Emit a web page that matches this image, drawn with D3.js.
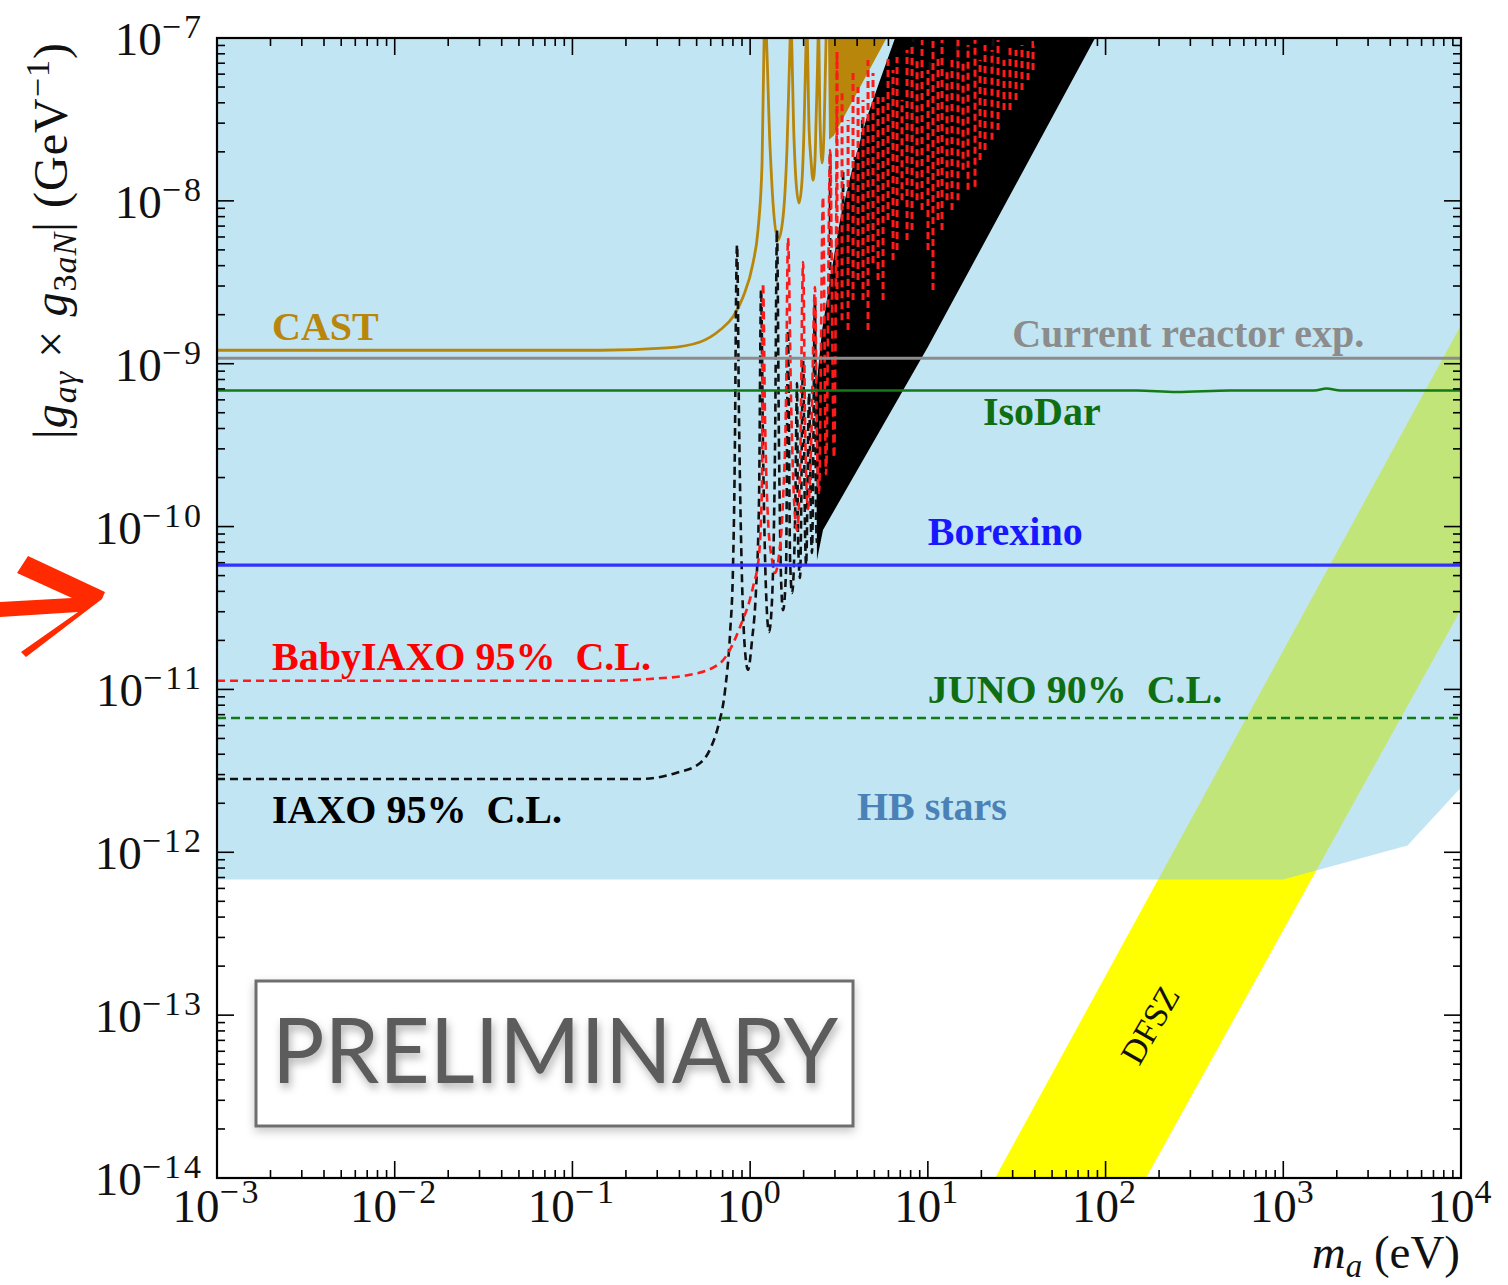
<!DOCTYPE html>
<html>
<head>
<meta charset="utf-8">
<script src="https://cdn.jsdelivr.net/npm/d3@7"></script>
<style>
  html, body { margin: 0; padding: 0; background: #fff; }
  svg { display: block; }
</style>
</head>
<body>
<svg id="chart" width="1508" height="1285"></svg>
<script>
// ---------------- data ----------------
const massDomain = [1e-3, 1e4];            // m_a (eV)
const couplingDomain = [1e-14, 1e-7];      // |g_ay x g_3aN| (GeV^-1)
const xTickExponents = [-3, -2, -1, 0, 1, 2, 3, 4];
const yTickExponents = [-14, -13, -12, -11, -10, -9, -8, -7];

// HB stars excluded region (lower edge; extends to the top of the frame)
const hbMass  = [1e-3, 1e3, 5e3, 1e4];
const hbLower = [6.8e-13, 6.8e-13, 1.1e-12, 2.5e-12];

// DFSZ band
const dfszMass  = [20, 1e4];
const dfszUpper = [7.0e-15, 1.73e-9];
const dfszLower = [1.5e-16, 3.1e-11];

// CAST limit
const castMass = [1e-3, 0.143, 0.340, 0.523, 0.677, 0.801, 0.912, 1.038, 1.107, 1.167, 1.198, 1.213,
  1.294, 1.345, 1.435, 1.532, 1.613, 1.678, 1.69,
  1.766, 1.81, 1.884, 1.959, 2.009, 2.065, 2.08,
  2.147, 2.20, 2.259, 2.317, 2.35, 2.41, 2.42,
  2.472, 2.541, 2.606, 2.673, 2.69];
const castCoupling = [1.21e-9, 1.21e-9, 1.25e-9, 1.36e-9, 1.61e-9, 1.94e-9, 2.57e-9, 4.15e-9, 6.62e-9, 1.71e-8, 9.72e-8, 1.3e-7,
  2.14e-8, 9.7e-9, 5.75e-9, 7.96e-9, 2.14e-8, 9.72e-8, 1.3e-7,
  2.37e-8, 1.34e-8, 9.7e-9, 1.34e-8, 2.72e-8, 9.72e-8, 1.3e-7,
  2.72e-8, 1.78e-8, 1.34e-8, 1.78e-8, 3.14e-8, 9.72e-8, 1.3e-7,
  3.14e-8, 1.71e-8, 2.72e-8, 9.72e-8, 1.3e-7];
// CAST: densely oscillating part, drawn as its envelope
const castDenseMass = [2.742, 6.0, 2.965, 2.78];
const castDenseCoupling = [1.05e-7, 1.05e-7, 2.53e-8, 2.37e-8];

// IAXO 95% C.L.
const iaxoMass = [1e-3, 0.240, 0.383, 0.523, 0.603, 0.659, 0.723, 0.771, 0.801, 0.822, 0.833, 0.844,
  0.866, 0.900, 0.935, 0.973, 1.025, 1.079, 1.122, 1.152, 1.182, 1.228, 1.277, 1.328, 1.380, 1.416,
  1.454, 1.493, 1.532, 1.592, 1.633, 1.678, 1.722, 1.790, 1.836, 1.86, 1.909, 1.986, 2.04, 2.065,
  2.147, 2.20, 2.228, 2.317, 2.350, 2.377];
const iaxoCoupling = [2.82e-12, 2.82e-12, 3.07e-12, 3.53e-12, 4.43e-12, 5.88e-12, 9.93e-12, 2.22e-11, 5.65e-11, 3.76e-10, 2.46e-9, 5.36e-9,
  4.51e-10, 4.70e-11, 1.75e-11, 1.32e-11, 2.01e-11, 4.08e-11, 1.46e-10, 2.84e-9, 2.95e-10, 4.08e-11, 2.25e-11, 3.54e-11, 2.95e-10, 6.62e-9,
  2.95e-10, 4.70e-11, 3.07e-11, 5.41e-11, 1.61e-9, 6.24e-11, 3.91e-11, 1.10e-10, 7.62e-10, 8.28e-11, 4.83e-11, 1.05e-9, 8.28e-11, 5.81e-11,
  6.61e-10, 9.53e-11, 6.89e-11, 2.46e-9, 1.10e-10, 7.93e-11];
// IAXO: region filled by unresolved oscillations
const iaxoDenseMass = [2.377, 2.350, 2.541, 2.816, 3.205, 3.745, 4.489, 5.383, 6.539, 87.3, 10.02, 2.570];
const iaxoDenseCoupling = [6.24e-11, 6.90e-10, 1.61e-9, 3.27e-9, 7.62e-9, 1.55e-8, 3.14e-8, 5.52e-8, 1e-7, 1e-7, 1.27e-9, 9.53e-11];
// IAXO: resonance spikes next to the filled region
const iaxoSpikeMass = [2.818, 3.333, 3.556, 3.890, 4.275, 4.732, 5.178, 6.288, 7.638, 8.26, 10.27, 14.59, 23.28];
const iaxoSpikeTop  = [2.05e-8, 1.55e-8, 1.01e-8, 1.86e-8, 3.14e-8, 2.72e-8, 4.16e-8, 5.52e-8, 3.46e-8, 1.1e-7, 7.33e-8, 1.1e-7, 1.1e-7];
const iaxoSpikeBase = [1.61e-9, 2.46e-9, 3.04e-9, 3.27e-9, 4.33e-9, 5.75e-9, 1.01e-8, 1.78e-8, 1.55e-8, 2.05e-8, 2.72e-8, 4.16e-8, 6.36e-8];

// BabyIAXO 95% C.L.
const babyMass = [1e-3, 0.143, 0.273, 0.459, 0.677, 0.877, 1.038, 1.122, 1.167, 1.182, 1.213, 1.261,
  1.328, 1.380, 1.454, 1.532, 1.592, 1.633, 1.699, 1.766, 1.836, 1.909, 1.986, 2.04, 2.118, 2.20,
  2.317, 2.377, 2.443, 2.570, 2.673, 2.818, 2.965, 3.083];
const babyCoupling = [1.13e-11, 1.13e-11, 1.16e-11, 1.23e-11, 1.45e-11, 2.42e-11, 4.26e-11, 6.70e-11, 1.93e-10, 3.13e-9, 4.51e-10, 1.10e-10,
  6.24e-11, 5.19e-11, 6.70e-11, 1.46e-10, 5.99e-10, 5.91e-9, 5.99e-10, 1.46e-10, 9.53e-11, 2.22e-10, 4.21e-9, 3.92e-10, 1.28e-10, 2.95e-10,
  2.96e-9, 3.40e-10, 1.61e-10, 1.06e-8, 2.10e-10, 2.05e-8, 2.64e-10, 8.2e-8];
// BabyIAXO: resonance spikes at higher mass
const babySpikeMass = [3.083, 3.289, 3.556, 3.793, 4.048, 4.318, 4.607, 4.915, 5.245, 5.596, 5.970, 6.370, 6.708,
  7.157, 7.636, 8.147, 8.693, 9.275, 10.02, 10.69, 11.41, 12.02, 12.82, 13.68, 14.78, 15.78, 16.83,
  18.43, 19.67, 20.98, 22.97, 24.83, 26.84, 29.00, 31.35, 33.88, 36.62, 39.07];
const babySpikeTop = [8.2e-8, 4.80e-8, 3.14e-8, 6.36e-8, 5.00e-8, 4.16e-8, 7.33e-8, 6.10e-8, 4.46e-8, 4.34e-8, 7.86e-8, 6.36e-8, 7.64e-8,
  4.16e-8, 8.44e-8, 9.06e-8, 7.33e-8, 9.72e-8, 6.36e-8, 9.72e-8, 7.86e-8, 9.72e-8, 6.36e-8, 7.33e-8, 9.72e-8, 7.33e-8, 9.06e-8,
  9.72e-8, 7.33e-8, 9.06e-8, 8.44e-8, 9.72e-8, 7.33e-8, 9.06e-8, 8.44e-8, 9.06e-8, 8.44e-8, 9.72e-8];
const babySpikeBase = [2.46e-9, 1.85e-9, 1.61e-9, 2.46e-9, 3.27e-9, 2.46e-9, 1.61e-9, 4.15e-9, 3.27e-9, 2.46e-9, 7.62e-9, 4.33e-9, 4.99e-9,
  1.01e-8, 5.75e-9, 6.62e-9, 1.01e-8, 8.79e-9, 4.99e-9, 2.84e-9, 7.62e-9, 6.62e-9, 1.01e-8, 8.79e-9, 1.01e-8, 1.55e-8, 1.17e-8,
  1.22e-8, 1.78e-8, 2.05e-8, 2.37e-8, 2.72e-8, 3.61e-8, 3.61e-8, 4.16e-8, 4.80e-8, 5.52e-8, 6.36e-8];

// Reactor / solar limits and sensitivities
const reactorMass = [1e-3, 1e4];
const reactorCoupling = [1.08e-9, 1.08e-9];
const isodarMass = [1e-3, 150, 250, 500, 1500, 1750, 2100, 1e4];
const isodarCoupling = [6.85e-10, 6.85e-10, 6.7e-10, 6.85e-10, 6.85e-10, 7.05e-10, 6.85e-10, 6.85e-10];
const borexinoMass = [1e-3, 1e4];
const borexinoCoupling = [5.8e-11, 5.8e-11];
const junoMass = [1e-3, 1e4];
const junoCoupling = [6.68e-12, 6.68e-12];

// Curve labels
const labelText  = ["CAST", "Current reactor exp.", "IsoDar", "Borexino", "BabyIAXO 95%  C.L.", "JUNO 90%  C.L.", "IAXO 95%  C.L.", "HB stars"];
const labelMass  = [2.04e-3, 29.8, 20.4, 10.0, 2.04e-3, 10.0, 2.04e-3, 3.99];
const labelCoupling = [1.40e-9, 1.27e-9, 4.2e-10, 7.71e-11, 1.32e-11, 8.26e-12, 1.51e-12, 1.58e-12];
const labelColor = ["#b8860b", "#8c8c8c", "#0f6e12", "#1818ff", "#ff0000", "#0f6e12", "#000000", "#4a82b8"];

// ---------------- layout ----------------
const plot = { left: 217, right: 1461, top: 38, bottom: 1178 };
const serif = "'Liberation Serif', 'Times New Roman', serif";

const svg = d3.select("#chart");
const x = d3.scaleLog().domain(massDomain).range([plot.left, plot.right]);
const y = d3.scaleLog().domain(couplingDomain).range([plot.bottom, plot.top]);

const defs = svg.append("defs");
defs.append("clipPath").attr("id", "plotClip")
  .append("rect")
  .attr("x", plot.left).attr("y", plot.top)
  .attr("width", plot.right - plot.left).attr("height", plot.bottom - plot.top);

const boxShadow = defs.append("filter").attr("id", "boxShadow")
  .attr("x", "-10%").attr("y", "-20%").attr("width", "120%").attr("height", "150%");
boxShadow.append("feDropShadow").attr("dx", 0).attr("dy", 4).attr("stdDeviation", 5)
  .attr("flood-color", "#000").attr("flood-opacity", 0.22);
const textShadow = defs.append("filter").attr("id", "textShadow")
  .attr("x", "-5%").attr("y", "-20%").attr("width", "110%").attr("height", "150%");
textShadow.append("feDropShadow").attr("dx", 2).attr("dy", 5).attr("stdDeviation", 4)
  .attr("flood-color", "#000").attr("flood-opacity", 0.3);

const line = d3.line().x(d => x(d[0])).y(d => y(d[1]));
const smooth = d3.line().x(d => x(d[0])).y(d => y(d[1])).curve(d3.curveMonotoneX);

const g = svg.append("g").attr("clip-path", "url(#plotClip)");

// DFSZ band
g.append("path")
  .datum(d3.zip(dfszMass, dfszLower, dfszUpper))
  .attr("d", d3.area().x(d => x(d[0])).y0(d => y(d[1])).y1(d => y(d[2])))
  .attr("fill", "#ffff00");

// HB stars (translucent, so the DFSZ band shows through in green)
g.append("path")
  .datum(d3.zip(hbMass, hbLower))
  .attr("d", d3.area().x(d => x(d[0])).y0(d => y(d[1])).y1(y(couplingDomain[1]) - 2))
  .attr("fill", "rgb(139,206,232)").attr("fill-opacity", 0.525);

// CAST
g.append("path")
  .attr("d", line(d3.zip(castDenseMass, castDenseCoupling)) + "Z")
  .attr("fill", "#b8860b");
g.append("path")
  .attr("d", smooth(d3.zip(castMass, castCoupling)))
  .attr("fill", "none").attr("stroke", "#b8860b").attr("stroke-width", 2.8);

// IAXO
g.append("path")
  .attr("d", line(d3.zip(iaxoDenseMass, iaxoDenseCoupling)) + "Z")
  .attr("fill", "#000");
g.append("path")
  .attr("d", smooth(d3.zip(iaxoMass, iaxoCoupling)))
  .attr("fill", "none").attr("stroke", "#111").attr("stroke-width", 2.6)
  .attr("stroke-dasharray", "8,5");
g.selectAll("line.iaxoSpike")
  .data(d3.zip(iaxoSpikeMass, iaxoSpikeTop, iaxoSpikeBase))
  .join("line").attr("class", "iaxoSpike")
  .attr("x1", d => x(d[0])).attr("x2", d => x(d[0]))
  .attr("y1", d => y(d[2])).attr("y2", d => y(d[1]))
  .attr("stroke", "#111").attr("stroke-width", 2.8).attr("stroke-dasharray", "8,4");

// BabyIAXO
g.append("path")
  .attr("d", smooth(d3.zip(babyMass, babyCoupling)))
  .attr("fill", "none").attr("stroke", "#ff1a1a").attr("stroke-width", 2.6)
  .attr("stroke-dasharray", "8,5");
g.selectAll("line.babySpike")
  .data(d3.zip(babySpikeMass, babySpikeTop, babySpikeBase))
  .join("line").attr("class", "babySpike")
  .attr("x1", d => x(d[0])).attr("x2", d => x(d[0]))
  .attr("y1", d => y(d[2])).attr("y2", d => y(d[1]))
  .attr("stroke", "#ff1a1a").attr("stroke-width", 3).attr("stroke-dasharray", "7,4");

// horizontal limits
g.append("path").attr("d", line(d3.zip(reactorMass, reactorCoupling)))
  .attr("fill", "none").attr("stroke", "#8c8c8c").attr("stroke-width", 3);
g.append("path").attr("d", smooth(d3.zip(isodarMass, isodarCoupling)))
  .attr("fill", "none").attr("stroke", "#127a17").attr("stroke-width", 2.5);
g.append("path").attr("d", line(d3.zip(borexinoMass, borexinoCoupling)))
  .attr("fill", "none").attr("stroke", "#3232ff").attr("stroke-width", 3.2);
g.append("path").attr("d", line(d3.zip(junoMass, junoCoupling)))
  .attr("fill", "none").attr("stroke", "#127a17").attr("stroke-width", 2.5)
  .attr("stroke-dasharray", "9,5");

// curve labels
svg.append("g").selectAll("text")
  .data(d3.range(labelText.length))
  .join("text")
  .attr("x", i => x(labelMass[i])).attr("y", i => y(labelCoupling[i]))
  .attr("font-family", serif).attr("font-weight", "bold").attr("font-size", 40)
  .attr("fill", i => labelColor[i])
  .style("white-space", "pre")
  .text(i => labelText[i]);

// DFSZ label along the band
svg.append("text")
  .attr("transform", `translate(${x(178)},${y(8.7e-14)}) rotate(-60)`)
  .attr("text-anchor", "middle").attr("dominant-baseline", "central")
  .attr("font-family", serif).attr("font-size", 34).attr("fill", "#111")
  .text("DFSZ");

// ---------------- axes ----------------
const isMajor = v => Math.abs(Math.log10(v) - Math.round(Math.log10(v))) < 1e-6;
const xTicks = x.ticks();
const yTicks = y.ticks();
const axes = svg.append("g").attr("stroke", "#000").attr("stroke-width", 1.6);
const majorLen = 17, minorLen = 8;

xTicks.forEach(v => {
  const px = x(v), len = isMajor(v) ? majorLen : minorLen;
  axes.append("line").attr("x1", px).attr("x2", px).attr("y1", plot.bottom).attr("y2", plot.bottom - len);
  axes.append("line").attr("x1", px).attr("x2", px).attr("y1", plot.top).attr("y2", plot.top + len);
});
yTicks.forEach(v => {
  const py = y(v), len = isMajor(v) ? majorLen : minorLen;
  axes.append("line").attr("y1", py).attr("y2", py).attr("x1", plot.left).attr("x2", plot.left + len);
  axes.append("line").attr("y1", py).attr("y2", py).attr("x1", plot.right).attr("x2", plot.right - len);
});

svg.append("rect")
  .attr("x", plot.left).attr("y", plot.top)
  .attr("width", plot.right - plot.left).attr("height", plot.bottom - plot.top)
  .attr("fill", "none").attr("stroke", "#000").attr("stroke-width", 2.2);

const expText = e => (e < 0 ? "\u2212" + (-e) : String(e));

svg.append("g").selectAll("text")
  .data(xTickExponents).join("text")
  .attr("x", e => x(Math.pow(10, e))).attr("y", 1222)
  .attr("text-anchor", "middle")
  .attr("font-family", serif).attr("font-size", 47).attr("fill", "#111")
  .each(function (e) {
    const t = d3.select(this);
    t.append("tspan").text("10");
    t.append("tspan").attr("dy", -19).attr("font-size", 34).attr("letter-spacing", 3).text(expText(e));
  });

svg.append("g").selectAll("text")
  .data(yTickExponents).join("text")
  .attr("x", 204).attr("y", e => y(Math.pow(10, e)) + 17)
  .attr("text-anchor", "end")
  .attr("font-family", serif).attr("font-size", 47).attr("fill", "#111")
  .each(function (e) {
    const t = d3.select(this);
    t.append("tspan").text("10");
    t.append("tspan").attr("dy", -17).attr("font-size", 34).attr("letter-spacing", 3).text(expText(e));
  });

// axis titles
const xt = svg.append("text")
  .attr("x", 1460).attr("y", 1268).attr("text-anchor", "end")
  .attr("font-family", serif).attr("font-size", 47).attr("fill", "#111");
xt.append("tspan").attr("font-style", "italic").text("m");
xt.append("tspan").attr("font-style", "italic").attr("font-size", 33).attr("dy", 9).text("a");
xt.append("tspan").attr("dy", -9).style("white-space", "pre").text(" (eV)");

const yt = svg.append("text")
  .attr("transform", "translate(67,241) rotate(-90)")
  .attr("text-anchor", "middle")
  .attr("font-family", serif).attr("font-size", 48).attr("fill", "#111")
  .attr("textLength", 396).attr("lengthAdjust", "spacing")
  .style("white-space", "pre");
yt.append("tspan").text("|");
yt.append("tspan").attr("font-style", "italic").text("g");
yt.append("tspan").attr("font-style", "italic").attr("font-size", 34).attr("dy", 9).text("a\u03b3");
yt.append("tspan").attr("dy", -9).text(" \u00d7 ");
yt.append("tspan").attr("font-style", "italic").text("g");
yt.append("tspan").attr("font-size", 34).attr("dy", 9).text("3");
yt.append("tspan").attr("font-size", 34).attr("font-style", "italic").text("aN");
yt.append("tspan").attr("dy", -9).text("| (GeV");
yt.append("tspan").attr("font-size", 34).attr("dy", -18).text("\u22121");
yt.append("tspan").attr("dy", 18).text(")");

// ---------------- PRELIMINARY stamp ----------------
svg.append("rect")
  .attr("x", 256).attr("y", 981).attr("width", 597).attr("height", 145)
  .attr("fill", "#fff").attr("stroke", "#6e6e6e").attr("stroke-width", 3)
  .attr("filter", "url(#boxShadow)");
svg.append("text")
  .attr("x", 272).attr("y", 1083)
  .attr("font-family", "Lato, 'Open Sans', sans-serif").attr("font-size", 92)
  .attr("fill", "#5c5c5c")
  .attr("textLength", 566).attr("lengthAdjust", "spacingAndGlyphs")
  .attr("filter", "url(#textShadow)")
  .text("PRELIMINARY");

// ---------------- hand-drawn arrow pointing at the Borexino line ----------------
svg.append("path")
  .attr("d", "M0,602 L72,598 L17,573 L28,556 L105,592 L102,599 L26,657 L21,652 L78,612 L0,617 Z")
  .attr("fill", "#ff2a00");
</script>
</body>
</html>
